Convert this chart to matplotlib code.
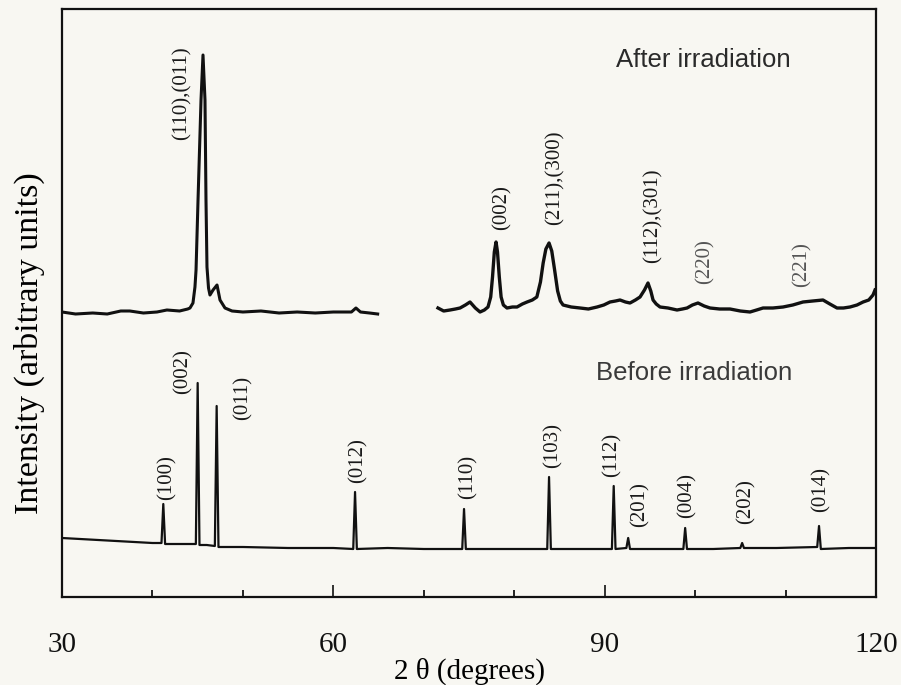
import matplotlib
matplotlib.use('Agg')
import matplotlib.pyplot as plt
from matplotlib.ticker import FixedLocator

plt.rcParams['font.family'] = ['Liberation Serif', 'DejaVu Serif']

# ---- data (2theta in degrees, intensity in arbitrary units) ----
# after irradiation, low-angle part
after_left_2theta = [30.0, 31.5, 33.4, 35.0, 36.5, 37.5, 39.0, 40.5, 41.6, 43.0, 43.9, 44.15, 44.48,
                     44.7, 44.82, 45.04, 45.37, 45.59, 45.81, 45.92, 46.03, 46.2, 46.36, 46.7, 47.14,
                     47.47, 48.02, 48.8, 50.0, 52.0, 54.0, 56.0, 58.0, 60.0, 62.0, 62.5, 63.0, 64.0, 64.9]
after_left_int = [285, 283, 284, 283, 286, 286, 284, 285, 287, 286, 288, 289, 294,
                  310, 327, 397, 497, 542, 497, 397, 330, 309, 302, 307, 312,
                  297, 289, 286, 285, 286, 284, 285, 284, 285, 285, 289, 285, 284, 283]

# after irradiation, high-angle part
after_right_2theta = [71.57, 72.2, 72.9, 73.5, 74.01, 74.6, 75.11, 75.7, 76.22, 76.7, 77.1, 77.4,
                      77.6, 77.8, 77.99, 78.15, 78.35, 78.55, 78.8, 79.2, 79.8, 80.31, 80.9, 81.42,
                      82.0, 82.5, 82.9, 83.2, 83.5, 83.85, 84.15, 84.45, 84.8, 85.1, 85.4, 86.3,
                      87.28, 88.2, 89.16, 89.9, 90.59, 91.2, 91.7, 92.3, 92.8, 93.4, 93.91, 94.4,
                      94.79, 95.1, 95.35, 95.7, 96.12, 97.0, 98.0, 98.6, 99.11, 99.7, 100.32,
                      101.0, 101.65, 102.7, 103.86, 105.0, 106.07, 106.8, 107.51, 108.6, 109.72,
                      110.8, 111.93, 113.0, 114.14, 114.9, 115.69, 116.4, 117.13, 117.9, 118.57,
                      119.2, 119.67, 119.89]
after_right_int = [289, 286, 287, 288, 289, 292, 295, 289, 285, 287, 290, 300,
                   320, 345, 355, 345, 320, 300, 292, 289, 290, 290, 293, 295,
                   297, 300, 315, 334, 348, 354, 346, 328, 306, 296, 292, 290,
                   289, 288, 290, 292, 295, 296, 297, 295, 294, 297, 300, 307,
                   314, 306, 297, 293, 290, 289, 287, 288, 289, 292, 294,
                   291, 289, 288, 288, 286, 285, 287, 289, 289, 290,
                   292, 295, 296, 297, 293, 289, 289, 290, 292, 295,
                   297, 302, 307]

# before irradiation
before_2theta = [30.0, 32.0, 34.0, 36.0, 38.0, 40.0, 41.0, 41.2, 41.4, 43.0, 44.8, 45.0, 45.2, 46.0,
                 46.9, 47.1, 47.3, 50.0, 55.0, 60.0, 62.2, 62.4, 62.6, 66.0, 70.0, 74.25, 74.45,
                 74.65, 78.0, 83.65, 83.85, 84.05, 88.0, 90.8, 91.0, 91.2, 92.4, 92.6, 92.8, 96.0,
                 98.7, 98.9, 99.1, 102.0, 105.0, 105.2, 105.4, 109.0, 113.5, 113.7, 113.9, 117.0, 120.0]
before_int = [59, 58, 57, 56, 55, 54, 54, 93, 53, 53, 53, 214, 52, 52,
              51, 191, 50, 50, 49, 49, 48, 105, 48, 49, 48, 48, 88,
              48, 48, 48, 120, 48, 48, 48, 111, 48, 49, 59, 48, 48,
              48, 69, 48, 48, 49, 54, 49, 49, 50, 71, 48, 49, 49]

# reflection labels
after_labels = ['(110),(011)', '(002)', '(211),(300)', '(112),(301)', '(220)', '(221)']
after_label_x = [43.27, 78.65, 84.51, 95.35, 101.1, 111.82]
after_label_y = [504, 389, 419, 381, 335, 332]

before_labels = ['(100)', '(002)', '(011)', '(012)', '(110)', '(103)', '(112)', '(201)',
                 '(004)', '(202)', '(014)']
before_label_x = [41.61, 43.38, 50.01, 62.73, 74.89, 84.29, 90.81, 93.91, 99.11, 105.63, 113.92]
before_label_y = [119, 225, 199, 136, 120, 152, 142, 92, 101, 95, 107]

bg = '#f8f7f2'
fig = plt.figure(figsize=(9.01, 6.85), dpi=100, facecolor=bg)
ax = fig.add_axes([62 / 901, 1 - 597 / 685, 814 / 901, 588 / 685])
ax.set_facecolor(bg)

ax.plot(after_left_2theta, after_left_int, color='#111111', lw=2.2)
ax.plot(after_right_2theta, after_right_int, color='#111111', lw=2.4)
ax.plot(before_2theta, before_int, color='#111111', lw=1.6)

for lab, x, y in zip(after_labels, after_label_x, after_label_y):
    c = '#555555' if lab in ('(220)', '(221)') else '#1a1a1a'
    ax.text(x, y, lab, rotation=90, ha='center', va='center', fontsize=15, color=c)
for lab, x, y in zip(before_labels, before_label_x, before_label_y):
    ax.text(x, y, lab, rotation=90, ha='center', va='center', fontsize=15, color='#1a1a1a')

ax.text(100.9, 537, 'After irradiation', family='Liberation Sans', fontsize=18.5,
        color='#2a2a2a', ha='center', va='center')
ax.text(99.9, 224, 'Before irradiation', family='Liberation Sans', fontsize=18.5,
        color='#3a3a3a', ha='center', va='center')

ax.set_xlim(30, 120)
ax.set_ylim(0, 588)
ax.set_yticks([])
ax.xaxis.set_major_locator(FixedLocator([30, 60, 90, 120]))
ax.xaxis.set_minor_locator(FixedLocator([40, 50, 70, 80, 100, 110]))
ax.tick_params(axis='x', which='major', direction='in', length=9, width=1.2, pad=25,
               labelsize=21, colors='#111111')
ax.tick_params(axis='x', which='minor', direction='in', length=5, width=1.2)
for s in ax.spines.values():
    s.set_linewidth(1.6)
    s.set_color('#111111')

ax.set_xlabel('2 θ (degrees)', fontsize=21, labelpad=0)
fig.text(29 / 901, 1 - 343 / 685, 'Intensity (arbitrary units)', rotation=90,
         ha='center', va='center', fontsize=24.5)

fig.savefig('out.png', dpi=100, facecolor=bg)
